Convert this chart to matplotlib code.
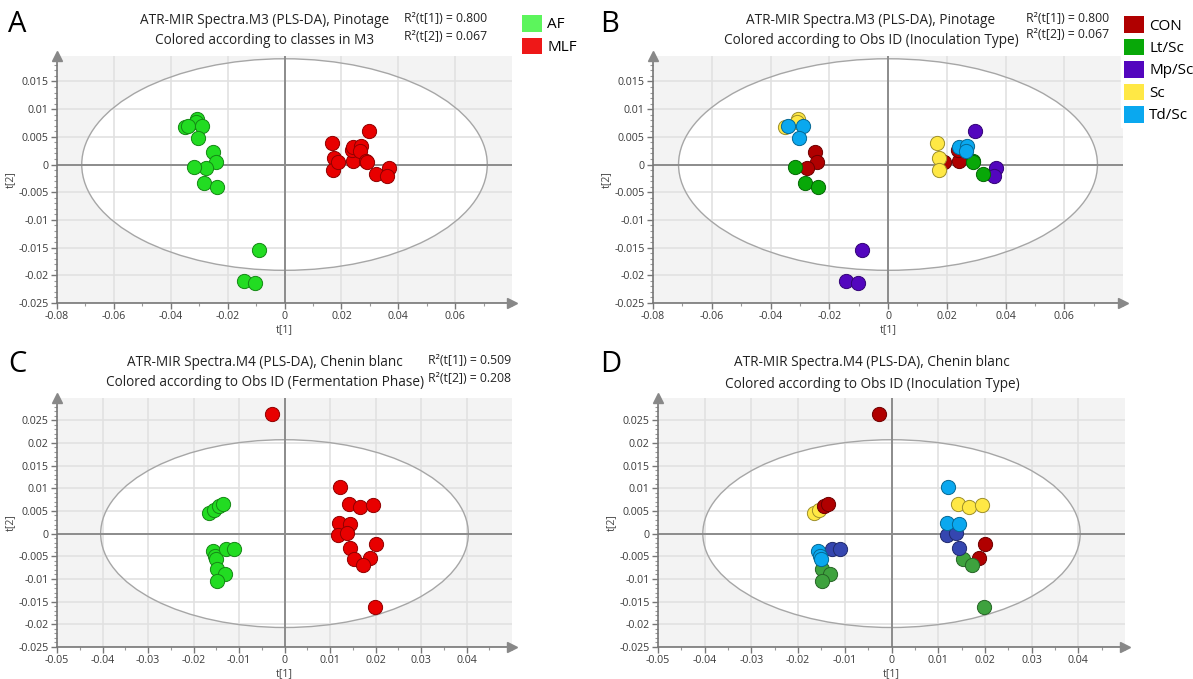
import numpy as np
import matplotlib
matplotlib.use("Agg")
import matplotlib.pyplot as plt
from matplotlib.patches import Ellipse, Patch
from matplotlib.ticker import AutoMinorLocator, FuncFormatter

plt.rcParams['font.family'] = ['Open Sans', 'DejaVu Sans']

W, H = 1193, 679

# -----------------------------
# Pinotage scores (model M3)
# -----------------------------
pino_t1 = [-0.0349, -0.0306, -0.0310, -0.0341, -0.0290, -0.0304,
           -0.0250, -0.0241, -0.0276, -0.0318, -0.0284, -0.0238,
           -0.0089, -0.0143, -0.0102,
           0.0168, 0.0174, 0.0172, 0.0189, 0.0240, 0.0238,
           0.0240, 0.0269, 0.0266, 0.0288, 0.0290, 0.0323,
           0.0296, 0.0368, 0.0362]
pino_t2 = [0.0067, 0.00825, 0.00765, 0.0069, 0.0070, 0.00476,
           0.0022, 0.0004, -0.0007, -0.0005, -0.00325, -0.0041,
           -0.0155, -0.0211, -0.0213,
           0.0039, 0.0012, -0.0009, 0.0005, 0.0007, 0.0027,
           0.0032, 0.0033, 0.0024, 0.0006, 0.0004, -0.0017,
           0.0061, -0.0007, -0.0021]
pino_phase = ["AF"] * 15 + ["MLF"] * 15
pino_inoc = ["Sc", "Sc", "Sc", "Td/Sc", "Td/Sc", "Td/Sc",
             "CON", "CON", "CON", "Lt/Sc", "Lt/Sc", "Lt/Sc",
             "Mp/Sc", "Mp/Sc", "Mp/Sc",
             "Sc", "Sc", "Sc", "CON", "CON", "CON",
             "Td/Sc", "Td/Sc", "Td/Sc", "Lt/Sc", "Lt/Sc", "Lt/Sc",
             "Mp/Sc", "Mp/Sc", "Mp/Sc"]

# -----------------------------
# Chenin blanc scores (model M4)
# -----------------------------
chen_t1 = [-0.0166, -0.0156, -0.0145, -0.0136,
           -0.0157, -0.0153, -0.0151, -0.0128, -0.0111,
           -0.0149, -0.0131, -0.0149,
           -0.0027,
           0.0121, 0.0119, 0.0144, 0.0142, 0.0165, 0.0194,
           0.0118, 0.0138, 0.0144, 0.0200, 0.0188,
           0.0153, 0.0173, 0.0199]
chen_t2 = [0.0046, 0.0053, 0.0061, 0.0066,
           -0.0038, -0.0050, -0.0055, -0.0035, -0.0035,
           -0.0077, -0.0088, -0.0105,
           0.0264,
           0.0102, 0.0024, 0.0022, 0.0066, 0.0059, 0.0064,
           -0.0003, 0.0002, -0.0031, -0.0024, -0.0053,
           -0.0057, -0.0070, -0.0161]
chen_phase = ["AF"] * 12 + ["MLF"] * 15
chen_inoc = ["Sc", "Sc", "CON", "CON",
             "Td/Sc", "Td/Sc", "Td/Sc", "Mp/Sc", "Mp/Sc",
             "Lt/Sc", "Lt/Sc", "Lt/Sc",
             "CON",
             "Td/Sc", "Td/Sc", "Td/Sc", "Sc", "Sc", "Sc",
             "Mp/Sc", "Mp/Sc", "Mp/Sc", "CON", "CON",
             "Lt/Sc", "Lt/Sc", "Lt/Sc"]

phases = ["AF", "MLF"]
inoc_types = ["CON", "Lt/Sc", "Mp/Sc", "Sc", "Td/Sc"]

phase_colors = {"AF": "#22dc22", "MLF": "#e80000"}
phase_patch_colors = {"AF": "#5cf55c", "MLF": "#ee1818"}
inoc_colors_pino = {"CON": "#b00000", "Lt/Sc": "#08a808", "Mp/Sc": "#5306be",
                    "Sc": "#ffe845", "Td/Sc": "#0aa8ef"}
inoc_colors_chen = {"CON": "#b00000", "Lt/Sc": "#3ea23e", "Mp/Sc": "#3546b0",
                    "Sc": "#ffe845", "Td/Sc": "#0aa8ef"}


def darker(c, f=0.62):
    rgb = np.array(matplotlib.colors.to_rgb(c))
    return tuple(rgb * f)


def fx(px):
    return px / W


def fy(py):
    return 1 - py / H


def style_axes(ax, xticks, yticks, xlim, ylim, ell):
    ax.set_facecolor("#f3f3f3")
    ax.add_patch(Ellipse((0, 0), 2 * ell[0], 2 * ell[1], facecolor="white",
                         edgecolor="none", zorder=0.5))
    for x in xticks:
        ax.axvline(x, color="#e1e1e1", lw=1.2, zorder=0.8)
    for y in yticks:
        ax.axhline(y, color="#e1e1e1", lw=1.2, zorder=0.8)
    ax.add_patch(Ellipse((0, 0), 2 * ell[0], 2 * ell[1], facecolor="none",
                         edgecolor="#a6a6a6", lw=1.0, zorder=1))
    ax.axvline(0, color="#8c8c8c", lw=1.4, zorder=1.2)
    ax.axhline(0, color="#8c8c8c", lw=1.4, zorder=1.2)
    ax.set_xlim(*xlim)
    ax.set_ylim(*ylim)
    ax.set_xticks(xticks)
    ax.set_yticks(yticks)
    ax.xaxis.set_minor_locator(AutoMinorLocator(2))
    ax.yaxis.set_minor_locator(AutoMinorLocator(5))
    fmt = FuncFormatter(lambda v, p: "0" if abs(v) < 1e-12 else f"{v:g}")
    ax.xaxis.set_major_formatter(fmt)
    ax.yaxis.set_major_formatter(fmt)
    ax.tick_params(which="major", length=4, width=1, color="#777777",
                   labelsize=7.7, labelcolor="#3a3a3a", pad=2)
    ax.tick_params(which="minor", length=2.5, width=0.8, color="#999999")
    for s in ["top", "right"]:
        ax.spines[s].set_visible(False)
    for s in ["left", "bottom"]:
        ax.spines[s].set_color("#777777")
        ax.spines[s].set_linewidth(1.2)
    ax.plot(1, 0, ">", color="#888888", markersize=7, transform=ax.transAxes,
            clip_on=False, zorder=5)
    ax.plot(0, 1, "^", color="#888888", markersize=7, transform=ax.transAxes,
            clip_on=False, zorder=5)
    ax.set_xlabel("t[1]", fontsize=7.7, color="#444444", labelpad=1)
    ax.set_ylabel("t[2]", fontsize=7.7, color="#444444", labelpad=2)


def scatter_groups(ax, t1, t2, groups, order, colors):
    t1 = np.asarray(t1)
    t2 = np.asarray(t2)
    groups = np.asarray(groups)
    for g in order:
        m = groups == g
        ax.scatter(t1[m], t2[m], s=105, color=colors[g],
                   edgecolors=[darker(colors[g])], linewidths=0.7, zorder=3)


fig = plt.figure(figsize=(W / 100, H / 100), dpi=100)

ax_a = fig.add_axes([fx(57), fy(303), fx(512) - fx(57), fy(56) - fy(303)])
ax_b = fig.add_axes([fx(653), fy(303), fx(1123) - fx(653), fy(56) - fy(303)])
ax_c = fig.add_axes([fx(57), fy(647), fx(512) - fx(57), fy(398) - fy(647)])
ax_d = fig.add_axes([fx(658), fy(647), fx(1125) - fx(658), fy(398) - fy(647)])

pino_xt = np.round(np.arange(-0.08, 0.061, 0.02), 3)
pino_yt = np.round(np.arange(-0.025, 0.0151, 0.005), 3)
chen_xt = np.round(np.arange(-0.05, 0.041, 0.01), 3)
chen_yt = np.round(np.arange(-0.025, 0.0251, 0.005), 3)

for ax in (ax_a, ax_b):
    style_axes(ax, pino_xt, pino_yt, (-0.08, 0.08), (-0.025, 0.0196),
               (0.0713, 0.0191))
for ax in (ax_c, ax_d):
    style_axes(ax, chen_xt, chen_yt, (-0.05, 0.05), (-0.025, 0.0299),
               (0.0404, 0.0207))

scatter_groups(ax_a, pino_t1, pino_t2, pino_phase, phases, phase_colors)
scatter_groups(ax_b, pino_t1, pino_t2, pino_inoc,
               ["Mp/Sc", "CON", "Lt/Sc", "Sc", "Td/Sc"], inoc_colors_pino)
scatter_groups(ax_c, chen_t1, chen_t2, chen_phase, phases, phase_colors)
scatter_groups(ax_d, chen_t1, chen_t2, chen_inoc,
               ["Sc", "CON", "Lt/Sc", "Mp/Sc", "Td/Sc"], inoc_colors_chen)

# Titles and R2 annotations
tsize = 9.8
tcol = "#222222"
fig.text(fx(265), fy(20), "ATR-MIR Spectra.M3 (PLS-DA), Pinotage",
         ha="center", va="center", fontsize=tsize, color=tcol)
fig.text(fx(265), fy(40), "Colored according to classes in M3",
         ha="center", va="center", fontsize=tsize, color=tcol)
fig.text(fx(871), fy(20), "ATR-MIR Spectra.M3 (PLS-DA), Pinotage",
         ha="center", va="center", fontsize=tsize, color=tcol)
fig.text(fx(871), fy(40), "Colored according to Obs ID (Inoculation Type)",
         ha="center", va="center", fontsize=tsize, color=tcol)
fig.text(fx(265), fy(362), "ATR-MIR Spectra.M4 (PLS-DA), Chenin blanc",
         ha="center", va="center", fontsize=tsize, color=tcol)
fig.text(fx(265), fy(383), "Colored according to Obs ID (Fermentation Phase)",
         ha="center", va="center", fontsize=tsize, color=tcol)
fig.text(fx(872), fy(363), "ATR-MIR Spectra.M4 (PLS-DA), Chenin blanc",
         ha="center", va="center", fontsize=tsize, color=tcol)
fig.text(fx(872), fy(384), "Colored according to Obs ID (Inoculation Type)",
         ha="center", va="center", fontsize=tsize, color=tcol)

r2_pino = ["R\u00b2(t[1]) = 0.800", "R\u00b2(t[2]) = 0.067"]
r2_chen = ["R\u00b2(t[1]) = 0.509", "R\u00b2(t[2]) = 0.208"]
rsize = 8.8
for i, s in enumerate(r2_pino):
    fig.text(fx(404), fy(19 + 17 * i), s, ha="left", va="center",
             fontsize=rsize, color=tcol)
    fig.text(fx(1026), fy(18 + 17 * i), s, ha="left", va="center",
             fontsize=rsize, color=tcol)
for i, s in enumerate(r2_chen):
    fig.text(fx(428), fy(361 + 17 * i), s, ha="left", va="center",
             fontsize=rsize, color=tcol)

# Panel letters
for lab, (px, py) in zip("ABCD", [(8, 24), (600, 24), (8, 364), (600, 365)]):
    fig.text(fx(px), fy(py), lab, ha="left", va="center", fontsize=21,
             color="black")

# Legends
leg_kw = dict(loc="upper left", bbox_transform=fig.transFigure,
              fontsize=11, handlelength=1.3, handleheight=1.3,
              handletextpad=0.35, labelspacing=0.33, borderpad=0.2,
              borderaxespad=0)
leg_a = ax_a.legend(handles=[Patch(facecolor=phase_patch_colors[p],
                                   edgecolor="none", label=p) for p in phases],
                    bbox_to_anchor=(fx(519), fy(12)), frameon=False, **leg_kw)
leg_b = ax_b.legend(handles=[Patch(facecolor=inoc_colors_pino[g],
                                   edgecolor="none", label=g)
                             for g in inoc_types],
                    bbox_to_anchor=(fx(1121), fy(13)), frameon=True, **leg_kw)
leg_b.get_frame().set_facecolor("white")
leg_b.get_frame().set_edgecolor("white")
leg_b.get_frame().set_alpha(1)
leg_b.get_frame().set_boxstyle("square", pad=0)
leg_b.set_zorder(10)

fig.savefig("out.png", dpi=100)
